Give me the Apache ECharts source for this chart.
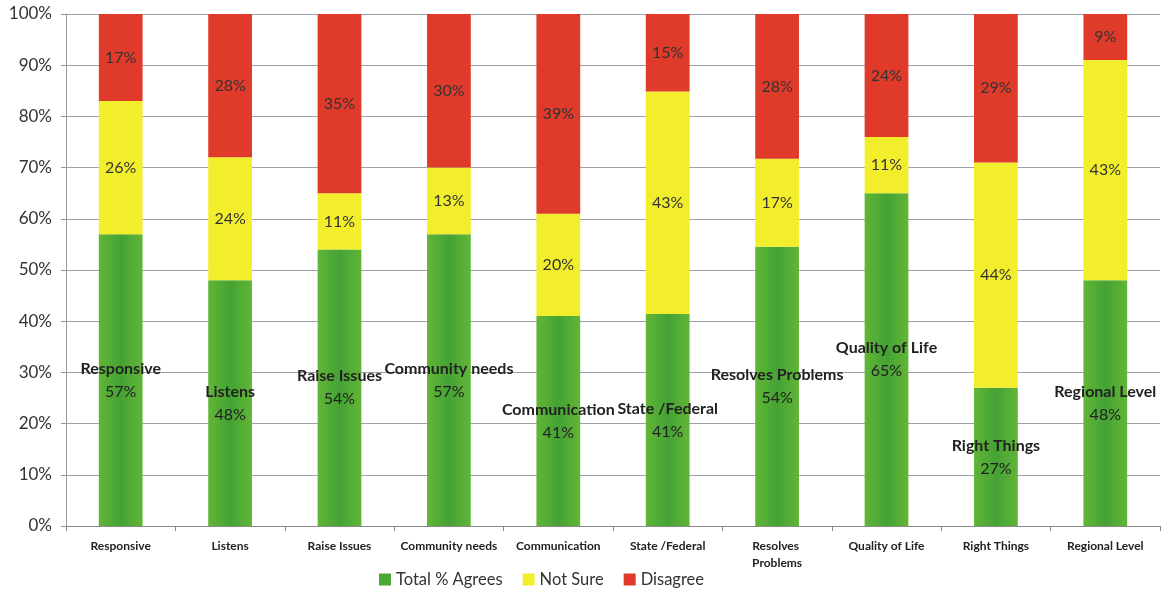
<!DOCTYPE html>
<html>
<head>
<meta charset="utf-8">
<script src="https://cdn.jsdelivr.net/npm/echarts@6/dist/echarts.min.js"></script>
<style>
  html, body { margin: 0; padding: 0; background: #fff; }
  #chart { width: 1168px; height: 606px; }
</style>
</head>
<body>
<div id="chart"></div>
<script>
// 类别和三组百分比（读图得到）
const categories = ['Responsive', 'Listens', 'Raise Issues', 'Community needs', 'Communication',
  'State /Federal', 'Resolves Problems', 'Quality of Life', 'Right Things', 'Regional Level'];
const agrees   = [57, 48, 54, 57, 41, 41, 54, 65, 27, 48];
const notSure  = [26, 24, 11, 13, 20, 43, 17, 11, 44, 43];
const disagree = [17, 28, 35, 30, 39, 15, 28, 24, 29, 9];
const yTicks = ['0%', '10%', '20%', '30%', '40%', '50%', '60%', '70%', '80%', '90%', '100%'];

// 100% 堆叠：每根柱子按总和换算
const totals = categories.map((c, i) => agrees[i] + notSure[i] + disagree[i]);
const toPct = arr => arr.map((v, i) => ({ value: v / totals[i] * 100, raw: v }));

const font = 'Lato, "Open Sans", sans-serif';

// 柱子中间深两边浅
const greenFill = new echarts.graphic.LinearGradient(0, 0, 1, 0, [
  { offset: 0, color: '#62b637' },
  { offset: 0.5, color: '#44a234' },
  { offset: 1, color: '#62b637' }
]);

function seg(name, arr, color, labelFn) {
  return {
    name: name,
    type: 'bar',
    stack: 'all',
    barWidth: '40%',
    itemStyle: { color: color },
    label: {
      show: true,
      position: 'inside',
      fontFamily: font,
      fontSize: 16,
      color: '#333',
      formatter: labelFn,
      rich: {
        b: { fontFamily: font, fontSize: 16, fontWeight: 'bold', color: '#222', lineHeight: 23 },
        n: { fontFamily: font, fontSize: 16, color: '#222', lineHeight: 23 }
      }
    },
    data: toPct(arr)
  };
}

const option = {
  backgroundColor: '#fff',
  animation: false,
  grid: { left: 66, right: 8, top: 14, bottom: 80 },
  legend: {
    left: 374,
    top: 566,
    itemWidth: 12,
    itemHeight: 12,
    itemGap: 20,
    icon: 'rect',
    textStyle: { fontFamily: font, fontSize: 16.5, color: '#333' },
    data: [
      { name: 'Total % Agrees', itemStyle: { color: '#4ca834' } },
      'Not Sure',
      'Disagree'
    ]
  },
  xAxis: {
    type: 'category',
    data: categories,
    axisLine: { lineStyle: { color: '#888' } },
    axisTick: { show: true, length: 5, lineStyle: { color: '#888' } },
    axisLabel: {
      interval: 0,
      margin: 12,
      fontFamily: font,
      fontSize: 12,
      fontWeight: 'bold',
      color: '#222',
      width: 98,
      overflow: 'break',
      lineHeight: 17
    }
  },
  yAxis: {
    type: 'value',
    min: 0,
    max: 100,
    interval: 10,
    axisLine: { show: true, lineStyle: { color: '#999' } },
    axisTick: { show: true, length: 5, lineStyle: { color: '#999' } },
    splitLine: { lineStyle: { color: '#a0a0a8' } },
    axisLabel: {
      fontFamily: font,
      fontSize: 17,
      color: '#333',
      margin: 14,
      formatter: v => yTicks[Math.round(v / 10)]
    }
  },
  series: [
    seg('Total % Agrees', agrees, greenFill,
      p => '{b|' + categories[p.dataIndex] + '}\n{n|' + p.data.raw + '%}'),
    seg('Not Sure', notSure, '#f3ee2c', p => p.data.raw + '%'),
    seg('Disagree', disagree, '#e03a2a', p => p.data.raw + '%')
  ]
};

const chart = echarts.init(document.getElementById('chart'));
chart.setOption(option);
</script>
</body>
</html>
